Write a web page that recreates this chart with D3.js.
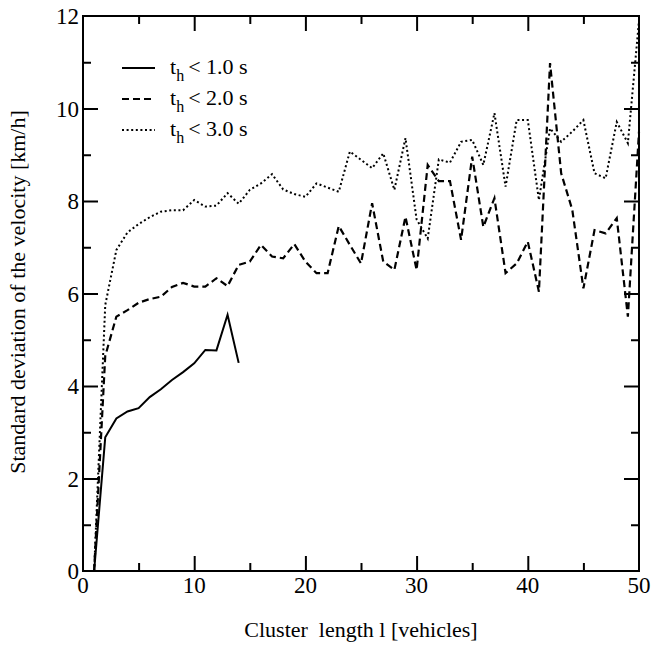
<!DOCTYPE html>
<html>
<head>
<meta charset="utf-8">
<script src="https://cdn.jsdelivr.net/npm/d3@7"></script>
<style>
  body { margin: 0; background: #fff; }
  text { font-family: "Liberation Serif", "DejaVu Serif", serif; fill: #000; }
</style>
</head>
<body>
<div id="chart"></div>
<script>
// cluster length (vehicles) and std. deviation of velocity (km/h)
var lenShort = d3.range(1, 15);
var lenLong = d3.range(1, 51);

var sdTh1 = [0, 2.89, 3.30, 3.45, 3.52, 3.76, 3.93, 4.13, 4.30, 4.49, 4.78, 4.77, 5.54, 4.50];

var sdTh2 = [0, 4.65, 5.50, 5.64, 5.80, 5.88, 5.93, 6.14, 6.23, 6.15,
             6.15, 6.33, 6.16, 6.62, 6.69, 7.05, 6.80, 6.76, 7.07, 6.69,
             6.44, 6.44, 7.46, 7.05, 6.65, 7.95, 6.69, 6.51, 7.66, 6.51,
             8.78, 8.43, 8.43, 7.16, 8.96, 7.44, 8.06, 6.44, 6.65, 7.12,
             6.04, 10.98, 8.60, 7.81, 6.11, 7.37, 7.30, 7.63, 5.50, 9.5];

var sdTh3 = [0, 5.75, 6.94, 7.32, 7.50, 7.65, 7.77, 7.80, 7.80, 8.02,
             7.88, 7.90, 8.17, 7.94, 8.24, 8.38, 8.58, 8.25, 8.15, 8.09,
             8.38, 8.29, 8.20, 9.07, 8.89, 8.71, 9.03, 8.24, 9.36, 7.6,
             7.19, 8.90, 8.83, 9.28, 9.32, 8.78, 9.90, 8.31, 9.75, 9.75,
             8.02, 9.57, 9.28, 9.50, 9.75, 8.60, 8.49, 9.71, 9.25, 11.9];

var legendLabels = ["< 1.0 s", "< 2.0 s", "< 3.0 s"];

var width = 651, height = 645;
var margin = {top: 16, right: 12, bottom: 74, left: 83};

var svg = d3.select("#chart").append("svg")
  .attr("width", width)
  .attr("height", height);

var x = d3.scaleLinear().domain([0, 50]).range([margin.left, width - margin.right]);
var y = d3.scaleLinear().domain([0, 12]).range([height - margin.bottom, margin.top]);

var x0 = x.range()[0], x1 = x.range()[1];
var y0 = y.range()[0], y1 = y.range()[1];

// ticks, all pointing inward
function tickSet(axis, pos, values, len) {
  var g = svg.append("g").attr("transform", "translate(" + pos[0] + "," + pos[1] + ")")
    .call(axis.tickValues(values).tickSizeInner(len).tickSizeOuter(0).tickFormat(""));
  g.select(".domain").remove();
  g.selectAll("line").attr("stroke", "#000").attr("stroke-width", 2);
}
var xMaj = [10, 20, 30, 40], xMin = [5, 15, 25, 35, 45];
var yMaj = [2, 4, 6, 8, 10], yMin = [1, 3, 5, 7, 9, 11];

tickSet(d3.axisTop(x), [0, y0], xMaj, 15);
tickSet(d3.axisTop(x), [0, y0], xMin, 8);
tickSet(d3.axisBottom(x), [0, y1], xMaj, 15);
tickSet(d3.axisBottom(x), [0, y1], xMin, 8);
tickSet(d3.axisRight(y), [x0, 0], yMaj, 15);
tickSet(d3.axisRight(y), [x0, 0], yMin, 8);
tickSet(d3.axisLeft(y), [x1, 0], yMaj, 15);
tickSet(d3.axisLeft(y), [x1, 0], yMin, 8);

// tick labels
svg.append("g").selectAll("text")
  .data([0, 10, 20, 30, 40, 50])
  .enter().append("text")
  .attr("x", function(d) { return x(d); })
  .attr("y", y0 + 22)
  .attr("text-anchor", "middle")
  .style("font-size", "23px")
  .text(function(d) { return d; });

svg.append("g").selectAll("text")
  .data([0, 2, 4, 6, 8, 10, 12])
  .enter().append("text")
  .attr("x", x0 - 4)
  .attr("y", function(d) { return y(d) + 8; })
  .attr("text-anchor", "end")
  .style("font-size", "23px")
  .text(function(d) { return d; });

// frame
svg.append("rect")
  .attr("x", x0).attr("y", y1)
  .attr("width", x1 - x0).attr("height", y0 - y1)
  .attr("fill", "none").attr("stroke", "#000").attr("stroke-width", 2);

// lines
var line = d3.line()
  .x(function(d) { return x(d[0]); })
  .y(function(d) { return y(d[1]); });

var styles = [
  {dash: null, w: 2},
  {dash: "7,4", w: 2.2},
  {dash: "2,2.6", w: 2}
];

var series = [
  d3.zip(lenShort, sdTh1),
  d3.zip(lenLong, sdTh2),
  d3.zip(lenLong, sdTh3)
];

svg.append("g").selectAll("path")
  .data(series)
  .enter().append("path")
  .attr("d", line)
  .attr("fill", "none")
  .attr("stroke", "#000")
  .attr("stroke-width", function(d, i) { return styles[i].w; })
  .attr("stroke-dasharray", function(d, i) { return styles[i].dash; })
  .attr("stroke-linejoin", "miter");

// legend
var leg = svg.append("g");
var legY = [68, 99, 130];
legendLabels.forEach(function(lab, i) {
  leg.append("line")
    .attr("x1", 122).attr("x2", 155)
    .attr("y1", legY[i]).attr("y2", legY[i])
    .attr("stroke", "#000")
    .attr("stroke-width", styles[i].w)
    .attr("stroke-dasharray", styles[i].dash);
  var t = leg.append("text")
    .attr("x", 170).attr("y", legY[i] + 6)
    .style("font-size", "22px");
  t.append("tspan").text("t");
  t.append("tspan").attr("dy", 7).style("font-size", "16px").text("h");
  t.append("tspan").attr("dy", -7).attr("dx", 4).text(lab);
});

// axis titles
svg.append("text")
  .attr("x", (x0 + x1) / 2)
  .attr("y", 637)
  .attr("text-anchor", "middle")
  .attr("xml:space", "preserve")
  .style("white-space", "pre")
  .style("font-size", "22px")
  .text("Cluster  length l [vehicles]");

svg.append("text")
  .attr("transform", "translate(25," + 292 + ") rotate(-90)")
  .attr("text-anchor", "middle")
  .style("font-size", "22px")
  .text("Standard deviation of the velocity [km/h]");
</script>
</body>
</html>
